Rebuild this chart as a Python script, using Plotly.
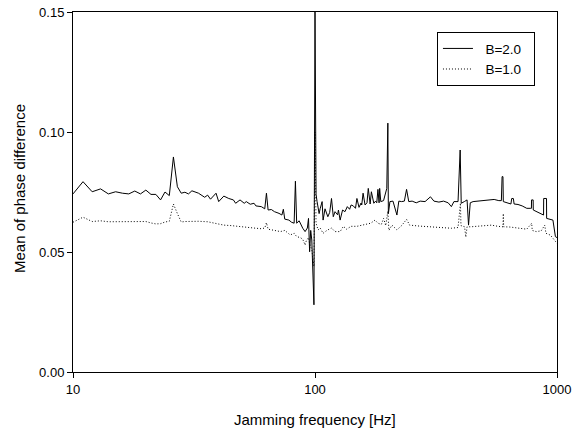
import plotly.graph_objects as go

# B=2.0 (solid)
freq_b2 = [10, 11, 12, 13, 14, 15, 16, 17, 18, 19, 20, 21, 22, 23, 24, 25, 26, 27, 28, 29, 30, 31,
           33, 35, 36, 37, 39, 40, 42, 44, 46, 47, 49, 51, 52, 54, 56, 57, 60, 62, 63, 64, 66, 68,
           71, 73, 74, 75, 78, 80, 82, 83, 84, 86, 89, 91, 93, 94, 95, 96, 97, 98, 99, 100, 101,
           102, 104, 105, 107, 108, 110, 113, 115, 117, 119, 121, 124, 125, 127, 130, 133, 136, 139,
           141, 144, 147, 149, 152, 155, 156, 158, 161, 164, 166, 169, 171, 175, 178, 180, 182, 184,
           185, 187, 192, 198, 200, 201, 204, 210, 218, 222, 228, 234, 239, 244, 252, 262, 272, 285,
           300, 310, 325, 340, 355, 366, 375, 390, 398, 402, 414, 425, 431, 438, 450, 480, 520, 550,
           575, 589, 593, 598, 600, 626, 645, 650, 660, 665, 690, 718, 750, 775, 784, 785, 797, 798,
           823, 845, 870, 880, 881, 905, 906, 940, 962, 985, 1000]
val_b2 = [0.0742, 0.0793, 0.0751, 0.0763, 0.0742, 0.0751, 0.0745, 0.0742, 0.0754, 0.0742, 0.0758,
          0.0740, 0.0740, 0.0717, 0.0750, 0.0735, 0.0896, 0.0772, 0.0745, 0.0749, 0.0742, 0.0755,
          0.0745, 0.0728, 0.0737, 0.0720, 0.0745, 0.0710, 0.0733, 0.0723, 0.0717, 0.0703, 0.0717,
          0.0703, 0.0710, 0.0699, 0.0703, 0.0692, 0.0689, 0.0680, 0.0745, 0.0675, 0.0677, 0.0668,
          0.0661, 0.0654, 0.0678, 0.0637, 0.0633, 0.0624, 0.0620, 0.0795, 0.0620, 0.0630, 0.0599,
          0.0585, 0.0600, 0.0640, 0.0501, 0.0590, 0.0550, 0.0425, 0.0280, 0.1500, 0.0740,
          0.0710, 0.0660, 0.0680, 0.0710, 0.0633, 0.0680, 0.0647, 0.0665, 0.0723, 0.0647, 0.0668,
          0.0655, 0.0675, 0.0633, 0.0675, 0.0668, 0.0689, 0.0678,
          0.0696, 0.0692, 0.0682, 0.0723, 0.0686, 0.0704, 0.0696, 0.0745, 0.0696, 0.0705, 0.0765,
          0.0700, 0.0751, 0.0703, 0.0712, 0.0705, 0.0761, 0.0705,
          0.0765, 0.0710, 0.0714, 0.0765, 0.1037, 0.0660, 0.0710, 0.0712, 0.0654, 0.0712, 0.0710,
          0.0712, 0.0761, 0.0710, 0.0712, 0.0705, 0.0712, 0.0710,
          0.0730, 0.0712, 0.0708, 0.0712, 0.0705, 0.0689, 0.0710, 0.0710, 0.0925, 0.0703, 0.0710,
          0.0717, 0.0612, 0.0705, 0.0710, 0.0712, 0.0717, 0.0719,
          0.0714, 0.0714, 0.0814, 0.0814, 0.0710, 0.0703, 0.0700, 0.0723, 0.0723, 0.0700, 0.0698,
          0.0692, 0.0682, 0.0682, 0.0682, 0.0717, 0.0717, 0.0675,
          0.0668, 0.0661, 0.0654, 0.0654, 0.0723, 0.0723, 0.0640, 0.0636, 0.0633, 0.0564, 0.0560]

# B=1.0 (dotted)
freq_b1 = [10, 11, 12, 13, 14, 15, 16, 17, 18, 19, 20, 21, 22, 23, 24, 25, 26, 27, 28, 29, 30, 31,
           33, 36, 39, 42, 45, 49, 53, 57, 60, 62, 63, 64, 68, 72, 75, 79, 82, 84, 87, 89, 91, 92,
           94, 95, 97, 98, 99, 100, 101, 103, 105, 108, 112, 117, 121, 127, 131, 135, 141, 149,
           156, 163, 170, 177, 182, 188, 192, 196, 200, 202, 208, 218, 228, 239, 246, 270, 300,
           330, 366, 390, 399, 401, 415, 420, 425, 440, 480, 536, 570, 598, 600, 602, 640, 700,
           750, 786, 790, 820, 860, 890, 900, 940, 980, 1000]
val_b1 = [0.0624, 0.0645, 0.0627, 0.0630, 0.0626, 0.0626, 0.0625, 0.0627, 0.0628, 0.0627, 0.0627,
          0.0621, 0.0617, 0.0618, 0.0625, 0.0628, 0.0700, 0.0660, 0.0625, 0.0627, 0.0628, 0.0629,
          0.0628, 0.0626, 0.0620, 0.0612, 0.0610, 0.0605, 0.0603, 0.0599, 0.0597, 0.0600, 0.0622,
          0.0595, 0.0590, 0.0585, 0.0590, 0.0571, 0.0578, 0.0564, 0.0560, 0.0553, 0.0529, 0.0546,
          0.0560, 0.0535, 0.0510, 0.0480, 0.0440, 0.1000, 0.0620, 0.0592, 0.0600, 0.0578, 0.0590,
          0.0600, 0.0585, 0.0585, 0.0607, 0.0595, 0.0607, 0.0607,
          0.0612, 0.0617, 0.0620, 0.0633, 0.0620, 0.0615, 0.0640, 0.0610, 0.0670, 0.0590, 0.0612,
          0.0592, 0.0610, 0.0636, 0.0612, 0.0608, 0.0605,
          0.0604, 0.0599, 0.0602, 0.0704, 0.0610, 0.0605, 0.0562, 0.0605, 0.0605, 0.0608, 0.0612,
          0.0607, 0.0605, 0.0660, 0.0605, 0.0604, 0.0599,
          0.0595, 0.0620, 0.0590, 0.0585, 0.0588, 0.0612, 0.0578, 0.0570, 0.0550, 0.0536]

x_ticks = [10, 100, 1000]
x_ticktext = ["10", "100", "1000"]
y_ticks = [0.00, 0.05, 0.10, 0.15]

FONT = "Liberation Sans, Arial, sans-serif"
NB = "\u00a0"

fig = go.Figure()
fig.add_trace(go.Scatter(x=freq_b2, y=val_b2, mode="lines", name=NB * 2 + "B=2.0" + NB * 2,
                         line=dict(color="black", width=1)))
fig.add_trace(go.Scatter(x=freq_b1, y=val_b1, mode="lines", name=NB * 2 + "B=1.0" + NB * 2,
                         line=dict(color="black", width=1, dash="1px,2px")))

fig.update_layout(
    width=573, height=434,
    margin=dict(l=73, r=16, t=12, b=62),
    paper_bgcolor="white", plot_bgcolor="white",
    font=dict(family=FONT, size=13, color="black"),
    showlegend=True,
    legend=dict(x=0.752, y=0.944, xanchor="left", yanchor="top",
                bordercolor="black", borderwidth=1, bgcolor="white",
                font=dict(family=FONT, size=13.5, color="black"),
                tracegroupgap=0, itemwidth=30),
    xaxis=dict(type="log", range=[1, 3], tickvals=x_ticks, ticktext=x_ticktext,
               ticks="outside", ticklen=5, tickcolor="black", showline=True, linecolor="black",
               linewidth=1, mirror=True, showgrid=False, zeroline=False, automargin=False,
               tickfont=dict(family=FONT, size=13)),
    yaxis=dict(range=[0, 0.15], tickvals=y_ticks, tickformat=".2f",
               ticks="outside", ticklen=5, tickcolor="black", showline=True, linecolor="black",
               linewidth=1, mirror=True, showgrid=False, zeroline=False, automargin=False,
               tickfont=dict(family=FONT, size=13)),
    annotations=[
        dict(text="Jamming frequency [Hz]", xref="paper", yref="paper", x=0.5, y=-0.133,
             xanchor="center", yanchor="middle", showarrow=False,
             font=dict(family=FONT, size=15, color="black")),
        dict(text="Mean of phase difference", xref="paper", yref="paper", x=-0.1116, y=0.511,
             xanchor="center", yanchor="middle", showarrow=False, textangle=-90,
             font=dict(family=FONT, size=15, color="black")),
    ],
)

fig.write_html("out.html", config={"displayModeBar": False},
               post_script="document.body.style.margin='0px';")
